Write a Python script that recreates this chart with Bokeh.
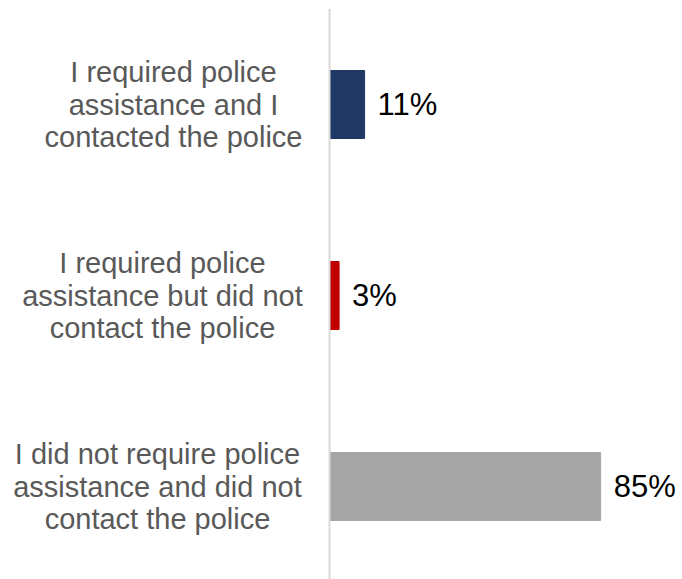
from bokeh.plotting import figure
from bokeh.models import Range1d, ColumnDataSource
from bokeh.core.properties import value
from bokeh.embed import file_html
from bokeh.resources import INLINE

# ---- data ----
categories = [
    "I required police assistance and I contacted the police",
    "I required police assistance but did not contact the police",
    "I did not require police assistance and did not contact the police",
]
label_lines = [
    ["I required police", "assistance and I", "contacted the police"],
    ["I required police", "assistance but did not", "contact the police"],
    ["I did not require police", "assistance and did not", "contact the police"],
]
percent = [11, 3, 85]
value_labels = ["11%", "3%", "85%"]
bar_colors = ["#1f3864", "#c00000", "#a5a5a5"]

# ---- layout ----
W, H = 682, 579
axis_px = 329
px_per_unit = 3.19
row_px = 191
first_row_px = 104
label_center_px = [173, 162, 157]   # horizontal centre of each label block
line_gap = 32.5

ypos = list(range(len(categories)))
x_start = -axis_px / px_per_unit
x_end = (W - axis_px) / px_per_unit
y_top = -first_row_px / row_px
y_bot = y_top + H / row_px

p = figure(width=W, height=H, output_backend="svg", toolbar_location=None,
           x_range=Range1d(x_start, x_end), y_range=Range1d(y_bot, y_top),
           min_border=0, min_border_left=0, min_border_right=0,
           min_border_top=0, min_border_bottom=0)
p.axis.visible = False
p.grid.visible = False
p.outline_line_color = None
p.background_fill_color = "white"
p.border_fill_color = "white"

src = ColumnDataSource(dict(y=ypos, v=percent, c=bar_colors, lab=value_labels))
p.hbar(y="y", left=0, right="v", height=0.356, color="c", source=src)

# vertical category axis line
p.segment(x0=[0], x1=[0], y0=[-0.5], y1=[len(categories) - 0.5],
          line_color="#d9d9d9", line_width=2)

# value labels
p.text(x="v", y="y", text="lab", source=src, x_offset=13,
       text_font=value("Liberation Sans"), text_font_size="31px",
       text_color="#000000", text_baseline="middle", text_align="left")

# category labels (multi-line, centred per block)
for i, lines in enumerate(label_lines):
    for j, line in enumerate(lines):
        p.text(x=[0], y=[ypos[i]], text=[line],
               x_offset=label_center_px[i] - axis_px,
               y_offset=(j - 1) * line_gap,
               text_font=value("Liberation Sans"), text_font_size="29px",
               text_color="#595959", text_align="center", text_baseline="middle")

open("out.html", "w").write(file_html(p, INLINE))
